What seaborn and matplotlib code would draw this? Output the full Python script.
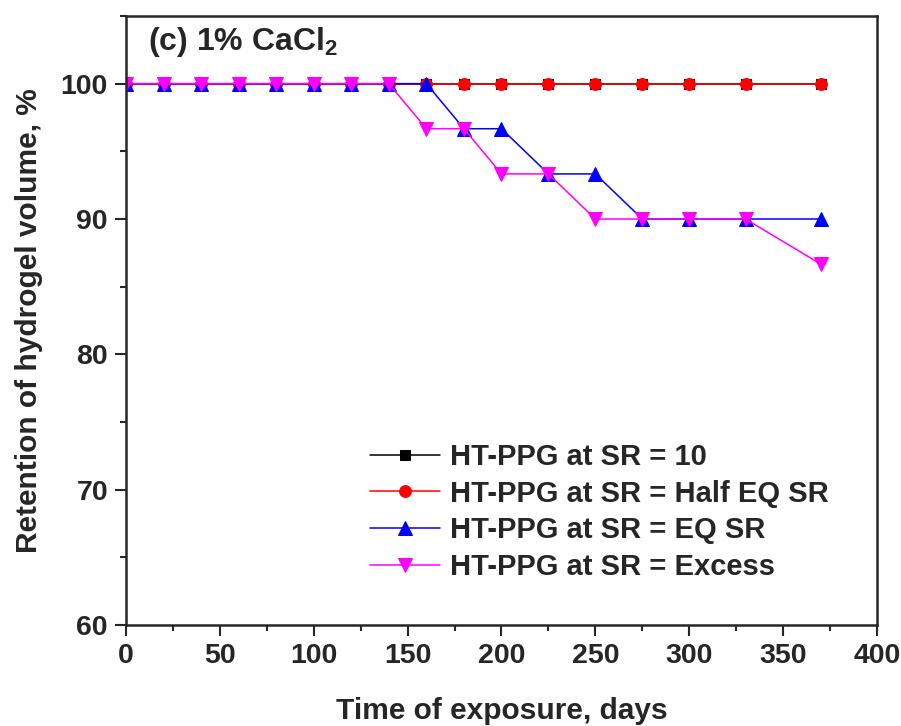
import numpy as np
import pandas as pd
import matplotlib
matplotlib.use("Agg")
import matplotlib.pyplot as plt
from matplotlib.ticker import MultipleLocator
import seaborn as sns

days = [0, 20, 40, 60, 80, 100, 120, 140, 160, 180, 200, 225, 250, 275, 300, 330, 370]
sr10 = [100] * 17
half_eq = [100] * 17
eq_sr = [100, 100, 100, 100, 100, 100, 100, 100, 100, 96.67, 96.67, 93.33, 93.33, 90, 90, 90, 90]
excess = [100, 100, 100, 100, 100, 100, 100, 100, 96.67, 96.67, 93.33, 93.33, 90, 90, 90, 90, 86.67]
labels = ["HT-PPG at SR = 10", "HT-PPG at SR = Half EQ SR", "HT-PPG at SR = EQ SR", "HT-PPG at SR = Excess"]

sns.set_style("ticks")
plt.rcParams['font.family'] = ['Liberation Sans', 'DejaVu Sans']
plt.rcParams['font.weight'] = 'bold'
plt.rcParams['mathtext.fontset'] = 'custom'
plt.rcParams['mathtext.rm'] = 'Liberation Sans:bold'
plt.rcParams['mathtext.bf'] = 'Liberation Sans:bold'

fig = plt.figure(figsize=(9.01, 7.26), dpi=100)
ax = fig.add_axes([126/901, 1-625/726, (877-126)/901, (625-16)/726])

series = [sr10, half_eq, eq_sr, excess]
colors = ["black", "#ff0000", "#0000ff", "#ff00ff"]
markers = ["s", "o", "^", "v"]
msizes = [7.5, 8.5, 10.5, 10.5]
for vals, lab, c, m, ms in zip(series, labels, colors, markers, msizes):
    sns.lineplot(x=days, y=vals, ax=ax, color=c, marker=m, markersize=ms,
                 markeredgecolor=c, linewidth=1.1, label=lab)

ax.set_xlim(0, 400)
ax.set_ylim(60, 105)
ax.xaxis.set_major_locator(MultipleLocator(50))
ax.xaxis.set_minor_locator(MultipleLocator(25))
ax.yaxis.set_major_locator(MultipleLocator(10))
ax.yaxis.set_minor_locator(MultipleLocator(5))
ax.tick_params(which='major', direction='out', length=8, width=1.5, labelsize=20.5, pad=5)
ax.tick_params(which='minor', direction='out', length=4, width=1.5)
ax.tick_params(top=False, right=False)
for lbl in ax.get_xticklabels() + ax.get_yticklabels():
    lbl.set_fontweight('bold')
for s in ax.spines.values():
    s.set_linewidth(1.8)
    s.set_visible(True)

ax.set_xlabel("Time of exposure, days", fontsize=21.5, fontweight='bold', labelpad=20)
ax.set_ylabel("Retention of hydrogel volume, %", fontsize=21.5, fontweight='bold', labelpad=13)

ax.text(0.029, 0.985, r"(c) 1% CaCl$\mathregular{_2}$", transform=ax.transAxes,
        fontsize=23, fontweight='bold', va='top', ha='left')

leg = ax.legend(loc='lower left', bbox_to_anchor=(0.325, 0.072), frameon=False,
                fontsize=21, handlelength=2.4, labelspacing=0.3, handletextpad=0.35,
                borderaxespad=0, borderpad=0)
for t in leg.get_texts():
    t.set_fontweight('bold')

fig.savefig("out.png", dpi=100)
